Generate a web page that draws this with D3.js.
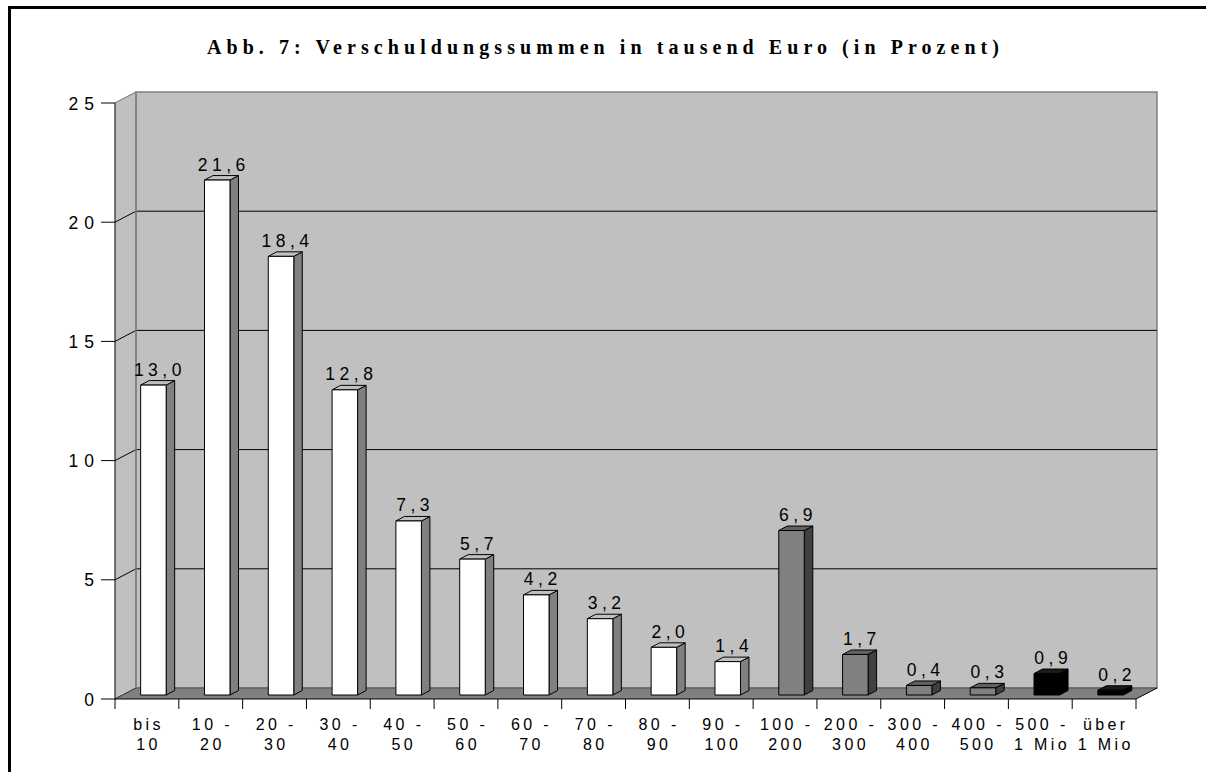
<!DOCTYPE html>
<html>
<head>
<meta charset="utf-8">
<script src="https://cdn.jsdelivr.net/npm/d3@7"></script>
<style>
  html, body { margin: 0; padding: 0; background: #fff; overflow: hidden; }
  svg { display: block; }
</style>
</head>
<body>
<div id="chart"></div>
<script>
// ---- data ----
const categories = [
  ["bis", "10"], ["10 -", "20"], ["20 -", "30"], ["30 -", "40"], ["40 -", "50"],
  ["50 -", "60"], ["60 -", "70"], ["70 -", "80"], ["80 -", "90"], ["90 -", "100"],
  ["100 -", "200"], ["200 -", "300"], ["300 -", "400"], ["400 -", "500"],
  ["500 -", "1 Mio"], ["über", "1 Mio"]
];
const values = [13.0, 21.6, 18.4, 12.8, 7.3, 5.7, 4.2, 3.2, 2.0, 1.4, 6.9, 1.7, 0.4, 0.3, 0.9, 0.2];
const colorGroups = ["white","white","white","white","white","white","white","white","white","white",
                     "gray","gray","gray","gray","black","black"];
const yTicks = [0, 5, 10, 15, 20, 25];
const titleText = "Abb. 7: Verschuldungssummen in tausend Euro (in Prozent)";

// ---- layout ----
const W = 1206, H = 772;
const X0 = 115, X1 = 1136, Y0 = 699, YTOP = 103;
const DX = 21, DY = -11;           // wall depth offset
const BFX = 6.5, BFY = -4;          // bar front offset into depth
const BDX = 8.5, BDY = -4.5;        // bar depth

const palettes = {
  white: { front: "#ffffff", side: "#808080", top: "#c0c0c0" },
  gray:  { front: "#808080", side: "#404040", top: "#606060" },
  black: { front: "#000000", side: "#000000", top: "#1a1a1a" }
};

const svg = d3.select("#chart").append("svg").attr("width", W).attr("height", H);

const idx = categories.map((d, i) => i);
const x = d3.scaleBand().domain(idx).range([X0, X1]);
const y = d3.scaleLinear().domain([0, 25]).range([Y0, YTOP]);
const bw = x.bandwidth();

// frame (right and bottom edges lie outside the picture)
svg.append("path").attr("d", `M${W + 10},7.5 H9.5 V${H + 10}`)
  .attr("fill", "none").attr("stroke", "#000").attr("stroke-width", 3);

// title
svg.append("text").attr("x", 207).attr("y", 54)
  .attr("textLength", 792).attr("lengthAdjust", "spacing")
  .attr("font-family", "'Liberation Serif', 'Times New Roman', serif")
  .attr("font-weight", "bold").attr("font-size", 20)
  .text(titleText);

const pts = a => a.map(p => p.join(",")).join(" ");

// left side wall
svg.append("polygon")
  .attr("points", pts([[X0, Y0], [X0 + DX, Y0 + DY], [X0 + DX, YTOP + DY], [X0, YTOP]]))
  .attr("fill", "#c0c0c0");
// back wall
svg.append("polygon")
  .attr("points", pts([[X0 + DX, Y0 + DY], [X1 + DX, Y0 + DY], [X1 + DX, YTOP + DY], [X0 + DX, YTOP + DY]]))
  .attr("fill", "#c0c0c0").attr("stroke", "#808080").attr("stroke-width", 1.5);
// left wall top edge
svg.append("line").attr("x1", X0).attr("y1", YTOP).attr("x2", X0 + DX).attr("y2", YTOP + DY)
  .attr("stroke", "#808080").attr("stroke-width", 1.2);

// gridlines
const grid = yTicks.filter(v => v > 0 && v < 25);
svg.selectAll(".gb").data(grid).enter().append("line")
  .attr("x1", X0 + DX).attr("x2", X1 + DX)
  .attr("y1", d => y(d) + DY).attr("y2", d => y(d) + DY)
  .attr("stroke", "#000").attr("stroke-width", 1);
svg.selectAll(".gs").data(yTicks.filter(v => v < 25)).enter().append("line")
  .attr("x1", X0).attr("x2", X0 + DX)
  .attr("y1", d => y(d)).attr("y2", d => y(d) + DY)
  .attr("stroke", "#000").attr("stroke-width", 1);

// floor
svg.append("polygon")
  .attr("points", pts([[X0, Y0], [X1, Y0], [X1 + DX, Y0 + DY], [X0 + DX, Y0 + DY]]))
  .attr("fill", "#808080");
svg.append("line").attr("x1", X0 + DX).attr("x2", X1 + DX).attr("y1", Y0 + DY).attr("y2", Y0 + DY)
  .attr("stroke", "#505050").attr("stroke-width", 1.2);
svg.append("line").attr("x1", X1).attr("x2", X1 + DX).attr("y1", Y0).attr("y2", Y0 + DY)
  .attr("stroke", "#000").attr("stroke-width", 1);
svg.append("line").attr("x1", X0).attr("x2", X0 + DX).attr("y1", Y0).attr("y2", Y0 + DY)
  .attr("stroke", "#333").attr("stroke-width", 1).attr("stroke-dasharray", "2,1");
// wall corner
svg.append("line").attr("x1", X0 + DX).attr("x2", X0 + DX).attr("y1", Y0 + DY).attr("y2", YTOP + DY)
  .attr("stroke", "#808080").attr("stroke-width", 1.5);

// bars
const bars = svg.append("g");
idx.forEach(i => {
  const v = values[i];
  const pal = palettes[colorGroups[i]];
  const xl = x(i) + bw * 0.3 + BFX;
  const xr = xl + bw * 0.4;
  const yb = Y0 + BFY;
  const yt = y(v) + BFY;
  const g = bars.append("g").attr("stroke", "#000").attr("stroke-width", 1).attr("stroke-linejoin", "round");
  g.append("polygon").attr("points", pts([[xr, yb], [xr + BDX, yb + BDY], [xr + BDX, yt + BDY], [xr, yt]]))
    .attr("fill", pal.side);
  g.append("polygon").attr("points", pts([[xl, yt], [xr, yt], [xr + BDX, yt + BDY], [xl + BDX, yt + BDY]]))
    .attr("fill", pal.top);
  g.append("rect").attr("x", xl).attr("y", yt).attr("width", xr - xl).attr("height", yb - yt)
    .attr("fill", pal.front);
  // value label
  svg.append("text")
    .attr("x", (xl + xr) / 2 + BDX / 2 + 2.25)
    .attr("y", yt + BDY - 5)
    .attr("text-anchor", "middle")
    .attr("font-family", "'Liberation Sans', Arial, sans-serif")
    .attr("font-size", 17.5).attr("letter-spacing", 4.5)
    .attr("fill", "#000")
    .text(v.toFixed(1).replace(".", ","));
});

// y axis
svg.append("line").attr("x1", X0).attr("x2", X0).attr("y1", Y0).attr("y2", YTOP)
  .attr("stroke", "#000").attr("stroke-width", 1);
svg.selectAll(".yt").data(yTicks).enter().append("line")
  .attr("x1", X0 - 14).attr("x2", X0).attr("y1", d => y(d)).attr("y2", d => y(d))
  .attr("stroke", "#000").attr("stroke-width", 1);
svg.selectAll(".yl").data(yTicks).enter().append("text")
  .attr("x", 94 + 6).attr("y", d => y(d) + 6.5)
  .attr("text-anchor", "end")
  .attr("font-family", "'Liberation Sans', Arial, sans-serif")
  .attr("font-size", 17.5).attr("letter-spacing", 6)
  .text(d => d);

// x axis
svg.append("line").attr("x1", X0).attr("x2", X1).attr("y1", Y0).attr("y2", Y0)
  .attr("stroke", "#000").attr("stroke-width", 1.2);
const bounds = idx.map(i => x(i)).concat([X1]);
svg.selectAll(".xt").data(bounds).enter().append("line")
  .attr("x1", d => d).attr("x2", d => d).attr("y1", Y0).attr("y2", Y0 + 10)
  .attr("stroke", "#000").attr("stroke-width", 1);
const xl = svg.selectAll(".xl").data(idx).enter().append("text")
  .attr("text-anchor", "middle")
  .attr("font-family", "'Liberation Sans', Arial, sans-serif")
  .attr("font-size", 16).attr("letter-spacing", 3.4);
xl.append("tspan").attr("x", d => x(d) + bw / 2 + 1.7).attr("y", 730).text(d => categories[d][0]);
xl.append("tspan").attr("x", d => x(d) + bw / 2 + 1.7).attr("y", 750).text(d => categories[d][1]);
</script>
</body>
</html>
